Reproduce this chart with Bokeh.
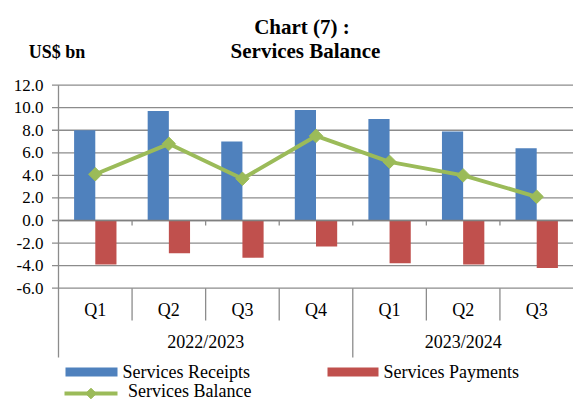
import numpy as np
from bokeh.plotting import figure
from bokeh.models import Range1d
from bokeh.core.properties import value
from bokeh.embed import file_html
from bokeh.resources import INLINE

# ---- data ----
quarters = ["Q1", "Q2", "Q3", "Q4", "Q1", "Q2", "Q3"]
years = ["2022/2023", "2023/2024"]
year_quarter_counts = [4, 3]
receipts = [8.0, 9.7, 7.0, 9.8, 9.0, 7.9, 6.4]
payments = [-3.9, -2.9, -3.3, -2.3, -3.8, -3.9, -4.2]
balance = [4.1, 6.8, 3.7, 7.5, 5.2, 4.0, 2.1]
y_ticks = [-6, -4, -2, 0, 2, 4, 6, 8, 10, 12]
y_tick_labels = [f"{v:.1f}" for v in y_ticks]

title_lines = ["Chart (7) :", "Services Balance"]
unit_label = "US$ bn"
series_names = ["Services Receipts", "Services Payments", "Services Balance"]

BLUE = "#4F81BD"
RED = "#C0504D"
GREEN = "#9BBB59"
GRID = "#8c8c8c"
SERIF = value("Liberation Serif")

# ---- layout (picture pixels -> data units) ----
W, H = 573, 401
X0, X1 = 58.0, 573.0
n = len(quarters)
CAT = (X1 - X0) / n
ZERO, PXU = 220.0, 11.28


def X(px):
    return (px - X0) / CAT


def Y(py):
    return (ZERO - py) / PXU


p = figure(width=W, height=H,
           x_range=Range1d(X(0), X(W)), y_range=Range1d(Y(H), Y(0)),
           output_backend="svg", toolbar_location=None,
           x_axis_location=None, y_axis_location=None, min_border=0)
p.outline_line_color = None
p.grid.visible = False
p.background_fill_color = "white"

# gridlines + ticks on left
m = len(y_ticks)
p.segment(x0=[X(51.5)] * m, y0=y_ticks, x1=[n] * m, y1=y_ticks,
          line_color=GRID, line_width=1.3)
p.text(x=[X(43)] * m, y=y_ticks, text=y_tick_labels, text_align="right",
       text_baseline="middle", text_font=SERIF, text_font_size=value("17px"),
       text_color="black")

cx = np.arange(n) + 0.5
bw = 0.288
p.vbar(x=cx - bw / 2, top=receipts, bottom=0, width=bw, fill_color=BLUE, line_color=None)
p.vbar(x=cx + bw / 2, top=payments, bottom=0, width=bw, fill_color=RED, line_color=None)

# zero axis line redrawn on top
p.segment(x0=[0], y0=[0], x1=[n], y1=[0], line_color="#808080", line_width=1.5)

# category axis boxes
bounds = np.arange(1, n)
year_bounds = np.cumsum(year_quarter_counts)[:-1]
q_bounds = [b for b in bounds if b not in year_bounds]
p.segment(x0=bounds, y0=[0] * len(bounds), x1=bounds, y1=[Y(225)] * len(bounds),
          line_color=GRID, line_width=1.3)
p.segment(x0=q_bounds, y0=[min(y_ticks)] * len(q_bounds), x1=q_bounds,
          y1=[Y(320)] * len(q_bounds), line_color=GRID, line_width=1.3)
yb_all = [0] + list(year_bounds)
p.segment(x0=yb_all, y0=[min(y_ticks) if b else max(y_ticks) for b in yb_all], x1=yb_all,
          y1=[Y(357)] * len(yb_all), line_color=GRID, line_width=1.3)

# balance line
p.line(x=cx, y=balance, line_color=GREEN, line_width=4)
p.scatter(x=cx, y=balance, marker="square", angle=np.pi / 4, size=9.5,
          fill_color=GREEN, line_color=GREEN)

# category labels
p.text(x=cx, y=[Y(309.5)] * n, text=quarters, text_align="center", text_baseline="middle",
       text_font=SERIF, text_font_size=value("18px"), text_color="black")
starts = np.concatenate([[0], np.cumsum(year_quarter_counts)[:-1]])
ycent = starts + np.array(year_quarter_counts) / 2
p.text(x=ycent, y=[Y(341.5)] * len(years), text=years, text_align="center",
       text_baseline="middle", text_font=SERIF, text_font_size=value("18px"),
       text_color="black")

# titles
p.text(x=[X(301.5)], y=[Y(26.3)], text=[title_lines[0]], text_align="center",
       text_baseline="middle", text_font=SERIF, text_font_style="bold",
       text_font_size=value("21px"), text_color="black")
p.text(x=[X(305)], y=[Y(50.8)], text=[title_lines[1]], text_align="center",
       text_baseline="middle", text_font=SERIF, text_font_style="bold",
       text_font_size=value("21px"), text_color="black")
p.text(x=[X(28.3)], y=[Y(51)], text=[unit_label], text_align="left",
       text_baseline="middle", text_font=SERIF, text_font_style="bold",
       text_font_size=value("18px"), text_color="black")

# legend
p.quad(left=[X(65)], right=[X(117)], top=[Y(367)], bottom=[Y(376)], fill_color=BLUE, line_color=None)
p.quad(left=[X(327)], right=[X(378)], top=[Y(367)], bottom=[Y(376)], fill_color=RED, line_color=None)
p.segment(x0=[X(64)], y0=[Y(393)], x1=[X(117)], y1=[Y(393)], line_color=GREEN, line_width=4)
p.scatter(x=[X(90.5)], y=[Y(393)], marker="square", angle=np.pi / 4, size=7.5,
          fill_color=GREEN, line_color=GREEN)
p.text(x=[X(122), X(383), X(127.5)], y=[Y(371.7), Y(371.7), Y(390.5)], text=series_names,
       text_align="left", text_baseline="middle", text_font=SERIF,
       text_font_size=value("18px"), text_color="black")

open("out.html", "w").write(file_html(p, INLINE))
